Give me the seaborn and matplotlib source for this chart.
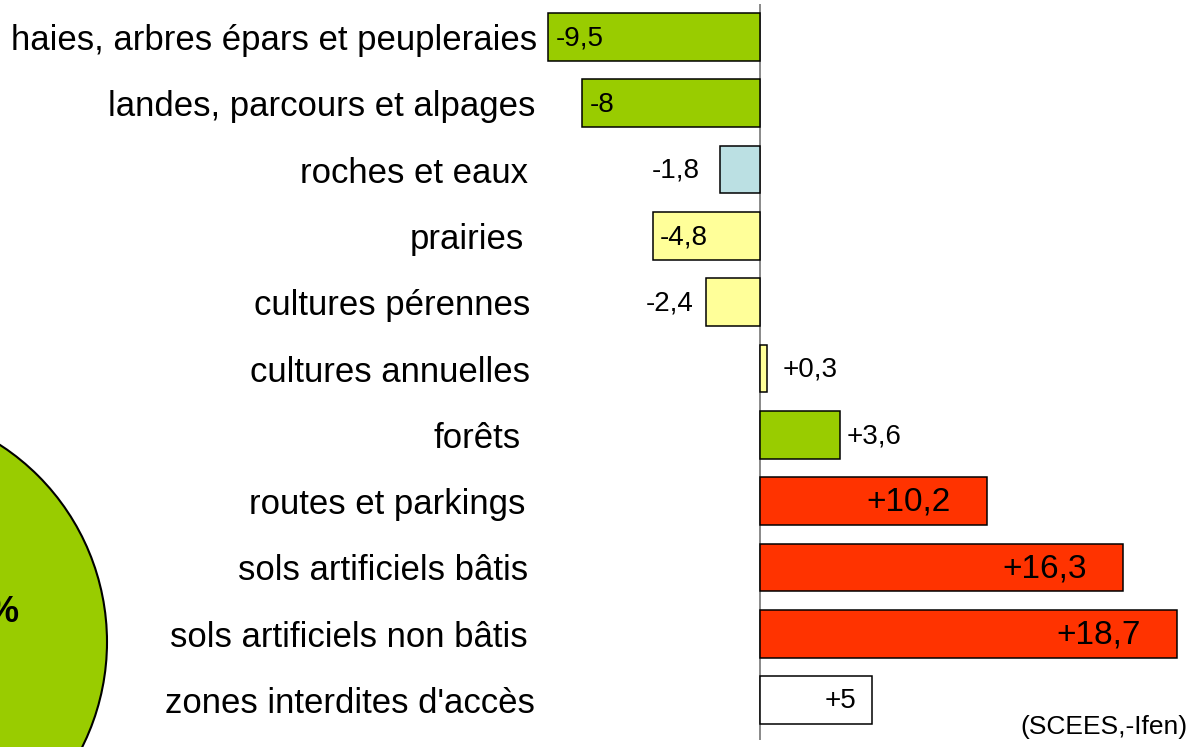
import matplotlib
matplotlib.use("Agg")
import matplotlib.pyplot as plt
from matplotlib.patches import Circle
import seaborn as sns

# Evolution de l'occupation du sol (en %)
categories = [
    "haies, arbres épars et peupleraies",
    "landes, parcours et alpages",
    "roches et eaux",
    "prairies",
    "cultures pérennes",
    "cultures annuelles",
    "forêts",
    "routes et parkings",
    "sols artificiels bâtis",
    "sols artificiels non bâtis",
    "zones interdites d'accès",
]
values = [-9.5, -8, -1.8, -4.8, -2.4, 0.3, 3.6, 10.2, 16.3, 18.7, 5]
bar_colors = ["#99CC00", "#99CC00", "#BBE0E3", "#FFFF99", "#FFFF99", "#FFFF99",
              "#99CC00", "#FF3300", "#FF3300", "#FF3300", "#FFFFFF"]
source = "(SCEES,-Ifen)"

# value label placement: inside/outside the bar, offset in pixels, font size
label_inside = [True, True, False, True, False, False, False, True, True, True, True]
label_offset_px = [8, 8, 20, 7, 13, 16, 6, 37, 37, 36, 15]
label_size = [20, 20, 20, 20, 20, 20, 20, 24, 24, 24, 20]
# category labels: right end relative to the axes left edge, pixels
cat_shift_px = [-3, -5, -12, -16, -10, -10, -19, -15, -12, -12, -5]

sns.set_theme(style="white")
plt.rcParams["font.family"] = ["Liberation Sans", "DejaVu Sans"]

W, H = 1203, 747
fig = plt.figure(figsize=(W / 100, H / 100), dpi=100)

# background layer in pixel coordinates (partial green disc at left)
bg = fig.add_axes([0, 0, 1, 1], zorder=0)
bg.set_xlim(0, W)
bg.set_ylim(H, 0)
bg.axis("off")
bg.add_patch(Circle((-128, 642), 235, facecolor="#99CC00", edgecolor="black", lw=1.5))
bg.text(18, 612, "%", ha="right", va="center", fontsize=26, fontweight="bold", color="black")

# main bar chart
px_per_unit = 22.3
zero_px = 760
left_px, right_px = 540, 1200
top_px, bottom_px = 4, 740
ax = fig.add_axes([left_px / W, (H - bottom_px) / H,
                   (right_px - left_px) / W, (bottom_px - top_px) / H], zorder=1)
ax.patch.set_alpha(0)

sns.barplot(x=values, y=categories, hue=categories, palette=bar_colors,
            legend=False, orient="h", width=0.72, edgecolor="black",
            linewidth=1.1, saturation=1, ax=ax)

ax.set_xlim((left_px - zero_px) / px_per_unit, (right_px - zero_px) / px_per_unit)
ax.set_ylim(10 + (bottom_px - 700) / 66.3, -(37 - top_px) / 66.3)
ax.axvline(0, color="#808080", lw=1.3, zorder=0.5)

for s in ax.spines.values():
    s.set_visible(False)
ax.set_xticks([])
ax.set_xlabel("")
ax.set_ylabel("")
ax.set_yticklabels([])
ax.tick_params(axis="y", length=0)

for i, cat in enumerate(categories):
    ax.annotate(cat, xy=(0, i), xycoords=("axes fraction", "data"),
                xytext=(cat_shift_px[i] * 0.72, 0), textcoords="offset points",
                ha="right", va="center_baseline", fontsize=25, color="black")

for i, v in enumerate(values):
    txt = f"{v:+g}".replace(".", ",")
    off = label_offset_px[i] * 0.72
    if v < 0:
        if label_inside[i]:
            dx, ha = off, "left"
        else:
            dx, ha = -off, "right"
    else:
        if label_inside[i]:
            dx, ha = -off, "right"
        else:
            dx, ha = off, "left"
    ax.annotate(txt, xy=(v, i), xytext=(dx, -1), textcoords="offset points",
                ha=ha, va="center", fontsize=label_size[i], color="black")

fig.text(1188 / W, 1 - 727 / H, source, ha="right", va="center", fontsize=19, color="black")

fig.savefig("out.png", dpi=100)
